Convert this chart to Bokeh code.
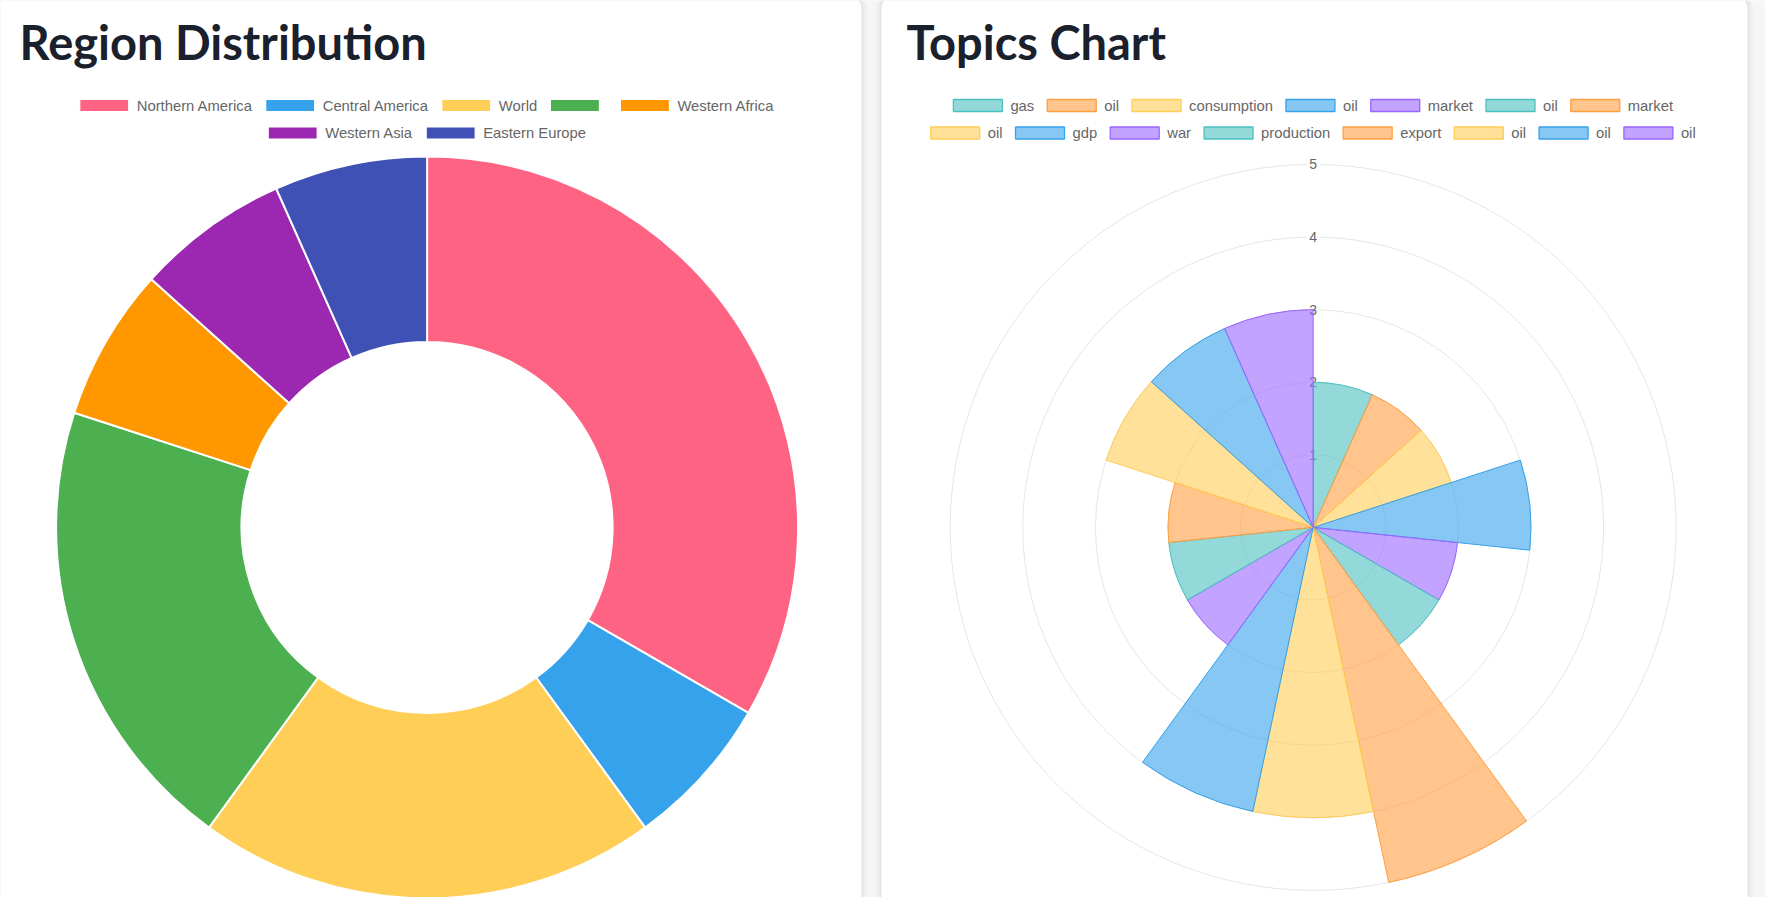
import math
from bokeh.plotting import figure
from bokeh.models import Range1d, ColumnDataSource
from bokeh.embed import file_html
from bokeh.resources import INLINE
from bokeh.core.properties import value

# ---------------- data ----------------
region_labels = ["Northern America", "Central America", "World", "", "Western Africa", "Western Asia", "Eastern Europe"]
region_values = [5, 1, 3, 3, 1, 1, 1]
region_colors = ["#FF6384", "#36A2EB", "#FFCE56", "#4CAF50", "#FF9800", "#9C27B0", "#3F51B5"]

topic_labels = ["gas", "oil", "consumption", "oil", "market", "oil", "market", "oil",
                "gdp", "war", "production", "export", "oil", "oil", "oil"]
topic_values = [2, 2, 2, 3, 2, 2, 5, 4, 4, 2, 2, 2, 3, 3, 3]
topic_palette = ["rgb(75,192,192)", "rgb(255,159,64)", "rgb(255,205,86)", "rgb(54,162,235)", "rgb(153,102,255)"]
radial_ticks = [1, 2, 3, 4, 5]

titles = ["Region Distribution", "Topics Chart"]

# ---------------- layout constants ----------------
W, H = 1765, 897


def sy(y):
    return H - y


AW = {' ': 278, 'A': 667, 'C': 722, 'E': 667, 'N': 722, 'W': 944,
      'a': 556, 'b': 556, 'c': 500, 'd': 556, 'e': 556, 'f': 278, 'g': 556, 'h': 556,
      'i': 222, 'j': 222, 'k': 500, 'l': 222, 'm': 833, 'n': 556, 'o': 556, 'p': 556,
      'q': 556, 'r': 333, 's': 500, 't': 278, 'u': 556, 'v': 500, 'w': 722, 'x': 500,
      'y': 500, 'z': 500}
LEG_FS = 14.8


def text_w(s):
    return sum(AW.get(c, 556) for c in s) / 1000.0 * LEG_FS


p = figure(width=W, height=H, x_range=Range1d(0, W), y_range=Range1d(0, H),
           output_backend="svg", toolbar_location=None, min_border=0)
p.axis.visible = False
p.grid.visible = False
p.outline_line_color = None
p.background_fill_color = "#f6f6f7"
p.border_fill_color = "#f6f6f7"

# cards with soft shadow
cards = [(-20, 861), (881, 1747)]
for (l, r) in cards:
    for pad, a in [(6, 0.015), (4, 0.02), (2, 0.03)]:
        p.quad(left=l - pad, right=r + pad, top=sy(-4 - pad), bottom=sy(930),
               fill_color="black", fill_alpha=a, line_color=None, border_radius=12 + pad)
    p.quad(left=l, right=r, top=sy(-4), bottom=sy(930), fill_color="white",
           line_color=None, border_radius=12)

# titles
p.text(x=[19, 906], y=[sy(41.5)] * 2, text=titles, text_font=value("Lato"),
       text_font_style="bold", text_font_size="47px", text_color="#1a202c",
       text_baseline="alphabetic", text_align="left")

# ---------------- donut ----------------
dcx, dcy = 426.6, 526.9
r_out, r_in = 371.0, 185.5
tot = float(sum(region_values))
starts, ends = [], []
acc = 0.0
for v in region_values:
    starts.append(math.pi / 2 - acc / tot * 2 * math.pi)
    acc += v
    ends.append(math.pi / 2 - acc / tot * 2 * math.pi)
dsrc = ColumnDataSource(dict(start=starts, end=ends, color=region_colors))
p.annular_wedge(x=dcx, y=sy(dcy), inner_radius=r_in, outer_radius=r_out,
                start_angle="start", end_angle="end", direction="clock",
                fill_color="color", line_color="white", line_width=2, source=dsrc)

# ---------------- polar area ----------------
pcx, pcy = 1312.7, 526.9
unit = 72.6
# grid rings
p.circle(x=[pcx] * len(radial_ticks), y=[sy(pcy)] * len(radial_ticks),
         radius=[t * unit for t in radial_ticks], fill_color=None,
         line_color="rgba(0,0,0,0.1)", line_width=1)
# tick backdrops + labels
p.quad(left=[pcx - 6.5] * len(radial_ticks), right=[pcx + 6.5] * len(radial_ticks),
       top=[sy(pcy - t * unit - 8.5) for t in radial_ticks],
       bottom=[sy(pcy - t * unit + 8.5) for t in radial_ticks],
       fill_color="white", fill_alpha=0.75, line_color=None)
p.text(x=[pcx] * len(radial_ticks), y=[sy(pcy - t * unit) for t in radial_ticks],
       text=[str(t) for t in radial_ticks], text_font=value("Liberation Sans"),
       text_font_size="14px", text_color="#666666", text_align="center",
       text_baseline="middle")

n = len(topic_values)
seg = 2 * math.pi / n
pstart = [math.pi / 2 - i * seg for i in range(n)]
pend = [math.pi / 2 - (i + 1) * seg for i in range(n)]
tcols = [topic_palette[i % len(topic_palette)] for i in range(n)]
psrc = ColumnDataSource(dict(r=[v * unit for v in topic_values], start=pstart, end=pend, color=tcols))
p.wedge(x=pcx, y=sy(pcy), radius="r", start_angle="start", end_angle="end",
        direction="clock", fill_color="color", fill_alpha=0.6, line_color="color",
        line_width=1, source=psrc)

# ---------------- legends ----------------
BOX_W, BOX_H, GAP1, GAP2 = 49.0, 12.0, 8.0, 13.0
ROW_Y = [105.0, 132.5]


def draw_legend(labels, fills, lines, alpha, line_w, cx, maxw):
    rows, cur, cw = [], [], 0.0
    for i, lab in enumerate(labels):
        iw = BOX_W + GAP1 + text_w(lab)
        add = iw if not cur else GAP2 + iw
        if cur and cw + add > maxw:
            rows.append((cur, cw))
            cur, cw = [i], iw
        else:
            cur.append(i)
            cw += add
    rows.append((cur, cw))
    bl, br, bt, bb, bf, bc, tx, ty, tt = [], [], [], [], [], [], [], [], []
    for ri, (items, rw) in enumerate(rows):
        x = cx - rw / 2.0
        yc = ROW_Y[ri]
        for i in items:
            bl.append(x); br.append(x + BOX_W)
            bt.append(sy(yc - BOX_H / 2)); bb.append(sy(yc + BOX_H / 2))
            bf.append(fills[i]); bc.append(lines[i])
            tx.append(x + BOX_W + GAP1); ty.append(sy(yc)); tt.append(labels[i])
            x += BOX_W + GAP1 + text_w(labels[i]) + GAP2
    src = ColumnDataSource(dict(l=bl, r=br, t=bt, b=bb, f=bf, c=bc))
    p.quad(left="l", right="r", top="t", bottom="b", fill_color="f", fill_alpha=alpha,
           line_color="c", line_width=line_w, source=src)
    p.text(x=tx, y=ty, text=tt, text_font=value("Liberation Sans"),
           text_font_size="%.1fpx" % LEG_FS, text_color="#666666",
           text_baseline="middle", text_align="left")


draw_legend(region_labels, region_colors, ["white"] * len(region_colors), 1.0, 1.2, dcx, 790)
draw_legend(topic_labels, tcols, tcols, 0.6, 1.3, pcx, 790)

open("out.html", "w").write(file_html(p, INLINE))
